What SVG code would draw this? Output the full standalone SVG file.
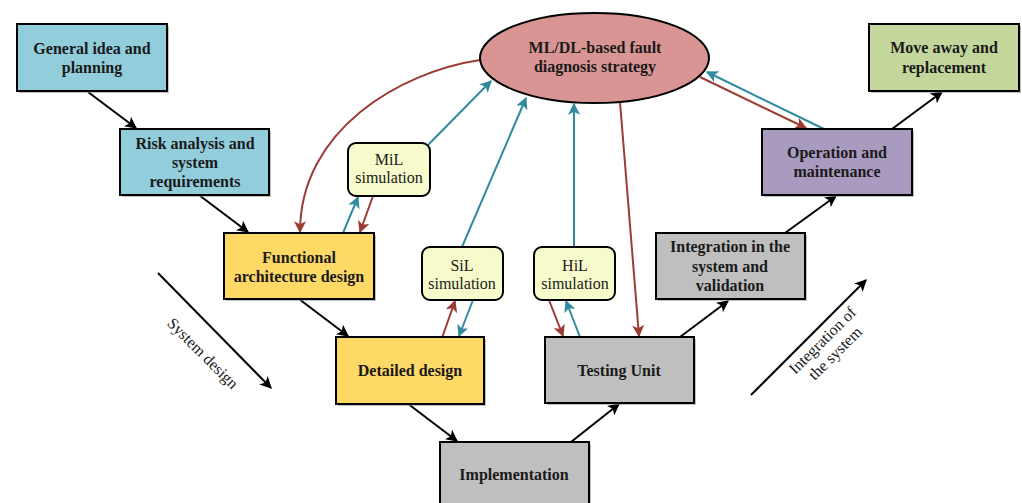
<svg xmlns="http://www.w3.org/2000/svg" width="1022" height="503" viewBox="0 0 1022 503">
  <style>
    .box { stroke: #000; stroke-width: 2; }
    .shadow { fill: #9a9a9a; opacity: 0.6; }
    .sim { fill: #F7FBCB; stroke: #000; stroke-width: 2; }
    .bt { font-family: "Liberation Serif", "Times New Roman", serif; font-size: 16px; font-weight: bold; fill: #1a1a1a; text-anchor: middle; }
    .rt { font-family: "Liberation Serif", "Times New Roman", serif; font-size: 16px; fill: #1a1a1a; text-anchor: middle; }
    .flow { stroke: #000; stroke-width: 2; fill: none; marker-end: url(#ahBlack); }
    .red { stroke: #9B3C34; stroke-width: 2; fill: none; marker-end: url(#ahRed); }
    .teal { stroke: #318A9E; stroke-width: 2; fill: none; marker-end: url(#ahTeal); }
  </style>
  <defs>
    <marker id="ahBlack" viewBox="0 0 10 10" refX="9" refY="5" markerWidth="6" markerHeight="6" markerUnits="strokeWidth" orient="auto">
      <path d="M0,0 L10,5 L0,10 L2.5,5 Z" fill="#000"/>
    </marker>
    <marker id="ahRed" viewBox="0 0 10 10" refX="9" refY="5" markerWidth="6" markerHeight="6" markerUnits="strokeWidth" orient="auto">
      <path d="M0,0 L10,5 L0,10 L2.5,5 Z" fill="#9B3C34"/>
    </marker>
    <marker id="ahTeal" viewBox="0 0 10 10" refX="9" refY="5" markerWidth="6" markerHeight="6" markerUnits="strokeWidth" orient="auto">
      <path d="M0,0 L10,5 L0,10 L2.5,5 Z" fill="#318A9E"/>
    </marker>
  </defs>

  <rect width="1022" height="503" fill="#fff"/>

  <!-- connectors -->
  <g id="connectors">
    <!-- V-model main flow -->
    <line class="flow" x1="88" y1="92" x2="136" y2="128"/>
    <line class="flow" x1="199" y1="195" x2="248" y2="232"/>
    <line class="flow" x1="299" y1="299" x2="348" y2="336"/>
    <line class="flow" x1="407" y1="403" x2="457" y2="441"/>
    <line class="flow" x1="571" y1="442" x2="619" y2="404"/>
    <line class="flow" x1="680" y1="337" x2="728" y2="301"/>
    <line class="flow" x1="785" y1="233" x2="836" y2="196"/>
    <line class="flow" x1="892" y1="129" x2="942" y2="92"/>

    <!-- phase arrows -->
    <line class="flow" x1="158" y1="273" x2="271" y2="388"/>
    <line class="flow" x1="751" y1="395" x2="866" y2="280"/>

    <!-- fault diagnosis strategy links -->
    <path class="red" d="M480,60 C400,72 300,130 300,232"/>
    <line class="teal" x1="428" y1="145" x2="491" y2="81"/>
    <line class="teal" x1="343" y1="233" x2="358" y2="197"/>
    <line class="red" x1="373" y1="196" x2="360" y2="232"/>
    <line class="teal" x1="462" y1="247" x2="526" y2="98"/>
    <line class="red" x1="442" y1="338" x2="455" y2="301"/>
    <line class="teal" x1="473" y1="300" x2="459" y2="336"/>
    <line class="teal" x1="574" y1="247" x2="574" y2="104"/>
    <line class="red" x1="549" y1="300" x2="563" y2="336"/>
    <line class="teal" x1="580" y1="337" x2="566" y2="301"/>
    <line class="red" x1="620" y1="102" x2="639" y2="336"/>
    <line class="red" x1="700" y1="77" x2="806" y2="128"/>
    <line class="teal" x1="824" y1="129" x2="707" y2="72"/>
  </g>

  <!-- phase labels -->
  <text class="rt" transform="translate(199,357) rotate(45)">System design</text>
  <g transform="translate(829,347) rotate(-45)">
    <text class="rt" x="0" y="-4">Integration of</text>
    <text class="rt" x="0" y="14">the system</text>
  </g>

  <g id="strategy">
    <ellipse cx="594.5" cy="58" rx="114.5" ry="45" fill="#D99594" stroke="#000" stroke-width="2"/>
    <text class="bt" x="595" y="53">ML/DL-based fault</text>
    <text class="bt" x="595" y="72">diagnosis strategy</text>
  </g>

  <g id="general-idea">
    <rect class="shadow" x="19" y="26" width="150" height="67"/>
    <rect class="box" x="17" y="24" width="150" height="67" fill="#92CDDC"/>
    <text class="bt" x="92" y="54">General idea and</text>
    <text class="bt" x="92" y="73">planning</text>
  </g>

  <g id="risk-analysis">
    <rect class="shadow" x="122" y="131" width="149" height="66"/>
    <rect class="box" x="120" y="129" width="149" height="66" fill="#92CDDC"/>
    <text class="bt" x="195" y="149">Risk analysis and</text>
    <text class="bt" x="195" y="168">system</text>
    <text class="bt" x="195" y="187">requirements</text>
  </g>

  <g id="functional-architecture">
    <rect class="shadow" x="226" y="235" width="150" height="66"/>
    <rect class="box" x="224" y="233" width="150" height="66" fill="#FFD966"/>
    <text class="bt" x="299" y="263">Functional</text>
    <text class="bt" x="299" y="282">architecture design</text>
  </g>

  <g id="detailed-design">
    <rect class="shadow" x="338" y="339" width="148" height="67"/>
    <rect class="box" x="336" y="337" width="148" height="67" fill="#FFD966"/>
    <text class="bt" x="410" y="376">Detailed design</text>
  </g>

  <g id="implementation">
    <rect class="shadow" x="442" y="444" width="149" height="70"/>
    <rect class="box" x="440" y="442" width="149" height="70" fill="#BFBFBF"/>
    <text class="bt" x="514" y="480">Implementation</text>
  </g>

  <g id="testing-unit">
    <rect class="shadow" x="547" y="339" width="149" height="66"/>
    <rect class="box" x="545" y="337" width="149" height="66" fill="#BFBFBF"/>
    <text class="bt" x="619" y="376">Testing Unit</text>
  </g>

  <g id="integration-validation">
    <rect class="shadow" x="658" y="235" width="149" height="66"/>
    <rect class="box" x="656" y="233" width="149" height="66" fill="#BFBFBF"/>
    <text class="bt" x="730" y="252">Integration in the</text>
    <text class="bt" x="730" y="272">system and</text>
    <text class="bt" x="730" y="291">validation</text>
  </g>

  <g id="operation-maintenance">
    <rect class="shadow" x="764" y="131" width="150" height="66"/>
    <rect class="box" x="762" y="129" width="150" height="66" fill="#A99BBF"/>
    <text class="bt" x="837" y="158">Operation and</text>
    <text class="bt" x="837" y="177">maintenance</text>
  </g>

  <g id="move-away">
    <rect class="shadow" x="871" y="26" width="150" height="67"/>
    <rect class="box" x="869" y="24" width="150" height="67" fill="#C3D69B"/>
    <text class="bt" x="944" y="53">Move away and</text>
    <text class="bt" x="944" y="73">replacement</text>
  </g>

  <g id="mil-simulation">
    <rect class="sim" x="348" y="143" width="82" height="53" rx="8"/>
    <text class="rt" x="389" y="165">MiL</text>
    <text class="rt" x="389" y="183">simulation</text>
  </g>

  <g id="sil-simulation">
    <rect class="sim" x="422" y="247" width="81" height="53" rx="8"/>
    <text class="rt" x="462" y="271">SiL</text>
    <text class="rt" x="462" y="289">simulation</text>
  </g>

  <g id="hil-simulation">
    <rect class="sim" x="534" y="247" width="81" height="53" rx="8"/>
    <text class="rt" x="575" y="271">HiL</text>
    <text class="rt" x="575" y="289">simulation</text>
  </g>
</svg>
